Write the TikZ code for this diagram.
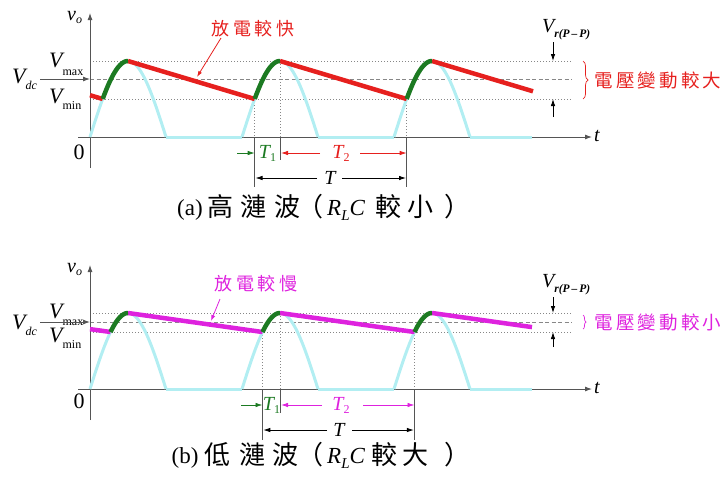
\documentclass[tikz,border=0pt]{standalone}
\usepackage{fontspec}
\setmainfont{Liberation Serif}
\newfontfamily\cjk{Noto Sans CJK TC}
\usetikzlibrary{arrows.meta,decorations.pathreplacing}
\definecolor{myred}{RGB}{230,32,30}
\definecolor{mygreen}{RGB}{28,122,34}
\definecolor{mycyan}{RGB}{178,238,242}
\definecolor{mymag}{RGB}{222,34,222}
\definecolor{axisgray}{RGB}{85,85,85}
\definecolor{dotgray}{RGB}{135,135,135}
\newcommand\Vlab[2]{{\fontsize{22}{22}\selectfont\itshape V}\raisebox{-#2}{\fontsize{12}{12}\selectfont #1}}
\newcommand\Tlab[1]{{\itshape T}\raisebox{-3pt}{\fontsize{12}{12}\selectfont #1}}
\newcommand\Vrpp{{\fontsize{20}{20}\selectfont\itshape V}\raisebox{-5pt}{\fontsize{11.5}{11.5}\selectfont\bfseries\itshape r(P\,--\,P)}}
\newcommand\cj[2]{\makebox[#1]{\cjk #2}}
\tikzset{
  axisl/.style={draw=axisgray, line width=0.9pt},
  tipa/.style={-{Latex[length=7pt,width=5pt]}},
  dotl/.style={dotgray, line width=0.9pt, dash pattern=on 1pt off 2pt},
  dashl/.style={dotgray, line width=0.9pt, dash pattern=on 4pt off 2.5pt},
  wave/.style={mycyan, line width=3pt, line join=round},
  disa/.style={myred, line width=4.5pt},
  disb/.style={mymag, line width=4.5pt},
  chg/.style={mygreen, line width=4.5pt, line join=round},
  vline/.style={axisgray, line width=0.8pt},
  dimarr/.style={line width=0.8pt, -{Latex[length=7pt,width=4.5pt]}},
  lbl/.style={inner sep=0pt, font=\fontsize{20}{20}\selectfont},
  capl/.style={inner sep=0pt, font=\fontsize{23}{23}\selectfont},
  capc/.style={inner sep=0pt, font=\fontsize{26}{26}\selectfont\cjk},
}
\begin{document}
\begin{tikzpicture}[x=1pt,y=-1pt]
\useasboundingbox (0,0) rectangle (727,477);
% ================= panel (a) =================
\draw[dotl] (90,61) -- (572,61);
\draw[dotl] (90,99) -- (572,99);
\draw[dashl] (90,79) -- (572,79);
\draw[dotl] (254.7,99) -- (254.7,137);
\draw[dotl] (280,61) -- (280,137);
\draw[dotl] (406.7,99) -- (406.7,137);
\draw[vline] (254.7,137) -- (254.7,187);
\draw[vline] (280,137) -- (280,160);
\draw[vline] (406.7,137) -- (406.7,187);
\draw[axisl, tipa] (78,137) -- (592,137);
\draw[axisl, tipa] (90,168) -- (90,13);
\foreach \s/\e in {90/166,242/318,394/470}
  \draw[wave] plot[domain=\s:\e, samples=40] (\x,{137-76*sin(180*(\x-\s)/76)});
\draw[wave] (166,137) -- (242,137) (318,137) -- (394,137) (470,137) -- (532,137);
\draw[disa] (90,95.2) -- (102.7,99);
\draw[disa] (128,61) -- (254.7,99);
\draw[disa] (280,61) -- (406.7,99);
\draw[disa] (432,61) -- (533,91.3);
\foreach \s/\a/\e in {90/102.7/128, 242/254.7/280, 394/406.7/432}
  \draw[chg] plot[domain=\a:\e, samples=20] (\x,{137-76*sin(180*(\x-\s)/76)});
% axis labels
\node[lbl, anchor=base west] (a-vo) at (67,20) {\itshape v\raisebox{-3pt}{\fontsize{12}{12}\selectfont o}};
\node[lbl, anchor=center] (a-t) at (597,136) {\itshape t};
\node[inner sep=0pt, font=\fontsize{22}{22}\selectfont] (a-zero) at (79,152) {0};
\node[inner sep=0pt, anchor=base west] (a-vmax) at (49,67) {\Vlab{max}{8pt}};
\node[inner sep=0pt, anchor=base west] (a-vdc) at (12,83) {\Vlab{\itshape dc}{6pt}};
\node[inner sep=0pt, anchor=base west] (a-vmin) at (49,103) {\Vlab{min}{6pt}};
\coordinate (a-dcs) at (40,79);
\coordinate (a-dce) at (90,79);
\draw[axisl, tipa] (a-dcs) -- (a-dce);
% T dimensions
\draw[dimarr, mygreen] (237,153) -- (254.7,153);
\node[lbl, text=mygreen] (a-t1) at (267.5,153) {\Tlab{1}};
\draw[dimarr, myred] (320,153) -- (281,153);
\node[lbl, text=myred] (a-t2) at (341,153) {\Tlab{2}};
\draw[dimarr, myred] (360,153) -- (406.7,153);
\draw[dimarr] (317,178) -- (255.5,178);
\node[lbl] (a-T) at (330,178) {\itshape T};
\draw[dimarr] (342,178) -- (406,178);
% discharge label
\node[inner sep=0pt, text=myred, font=\fontsize{18}{18}\selectfont] (a-fast) at (253,29)
  {\cj{22pt}{放}\cj{22pt}{電}\cj{22pt}{較}\cj{22pt}{快}};
\coordinate (a-fastp) at (197,77);
\draw[myred, line width=0.8pt, -{Latex[length=6pt,width=4pt]}] (221,38) -- (a-fastp);
% ripple
\node[inner sep=0pt, anchor=base west] (a-vr) at (542,32) {\Vrpp};
\draw[dimarr] (553,42) -- (553,61);
\draw[dimarr] (553,117) -- (553,99);
\draw[myred, line width=0.7pt, decorate, decoration={brace, amplitude=5pt}] (583,61) -- (583,99);
\node[inner sep=0pt, text=myred, font=\fontsize{18.5}{18.5}\selectfont] (a-big) at (658,80)
  {\cj{21.7pt}{電}\cj{21.7pt}{壓}\cj{21.7pt}{變}\cj{21.7pt}{動}\cj{21.7pt}{較}\cj{21.7pt}{大}};
% caption
\node[capl, anchor=base] (ca-1) at (190,215) {(a)};
\node[capc] (ca-2) at (220,207) {高};
\node[capc] (ca-3) at (253,207) {漣};
\node[capc] (ca-4) at (287,207) {波};
\node[capc] (ca-5) at (310,207) {（};
\node[capl, anchor=base west] (ca-6) at (327,215) {\itshape R\raisebox{-5pt}{\fontsize{15}{15}\selectfont L}C};
\node[capc] (ca-7) at (388,207) {較};
\node[capc] (ca-8) at (420,207) {小};
\node[capc] (ca-9) at (457,207) {）};
% ================= panel (b) =================
\draw[dotl] (90,313) -- (572,313);
\draw[dotl] (90,332) -- (572,332);
\draw[dashl] (90,322) -- (572,322);
\draw[dotl] (262.5,332) -- (262.5,389);
\draw[dotl] (280,313) -- (280,389);
\draw[dotl] (414.5,332) -- (414.5,389);
\draw[vline] (262.5,389) -- (262.5,440);
\draw[vline] (280,389) -- (280,413);
\draw[vline] (414.5,389) -- (414.5,440);
\draw[axisl, tipa] (78,389) -- (592,389);
\draw[axisl, tipa] (90,420) -- (90,265);
\foreach \s/\e in {90/166,242/318,394/470}
  \draw[wave] plot[domain=\s:\e, samples=40] (\x,{389-76*sin(180*(\x-\s)/76)});
\draw[wave] (166,389) -- (242,389) (318,389) -- (394,389) (470,389) -- (532,389);
\draw[disb] (90,329.1) -- (110.5,332);
\draw[disb] (128,313) -- (262.5,332);
\draw[disb] (280,313) -- (414.5,332);
\draw[disb] (432,313) -- (532,327.1);
\foreach \s/\a/\e in {90/110.5/128, 242/262.5/280, 394/414.5/432}
  \draw[chg] plot[domain=\a:\e, samples=20] (\x,{389-76*sin(180*(\x-\s)/76)});
\node[lbl, anchor=base west] (b-vo) at (67,272) {\itshape v\raisebox{-3pt}{\fontsize{12}{12}\selectfont o}};
\node[lbl, anchor=center] (b-t) at (597,388) {\itshape t};
\node[inner sep=0pt, font=\fontsize{22}{22}\selectfont] (b-zero) at (79,401) {0};
\node[inner sep=0pt, anchor=base west] (b-vmax) at (49,318) {\Vlab{max}{7pt}};
\node[inner sep=0pt, anchor=base west] (b-vdc) at (12,329) {\Vlab{\itshape dc}{6pt}};
\node[inner sep=0pt, anchor=base west] (b-vmin) at (49,342) {\Vlab{min}{6pt}};
\coordinate (b-dcs) at (40,322);
\coordinate (b-dce) at (90,322);
\draw[axisl, tipa] (b-dcs) -- (b-dce);
\draw[dimarr, mygreen] (241,405) -- (262.5,405);
\node[lbl, text=mygreen] (b-t1) at (271.5,405) {\Tlab{1}};
\draw[dimarr, mymag] (322,405) -- (281,405);
\node[lbl, text=mymag] (b-t2) at (341,405) {\Tlab{2}};
\draw[dimarr, mymag] (363,405) -- (414.5,405);
\draw[dimarr] (327,430) -- (263.3,430);
\node[lbl] (b-T) at (339,430) {\itshape T};
\draw[dimarr] (352,430) -- (413.8,430);
\node[inner sep=0pt, text=mymag, font=\fontsize{18}{18}\selectfont] (b-slow) at (256,284)
  {\cj{22pt}{放}\cj{22pt}{電}\cj{22pt}{較}\cj{22pt}{慢}};
\coordinate (b-slowp) at (211,321);
\draw[mymag, line width=0.8pt, -{Latex[length=6pt,width=4pt]}] (220,299) -- (b-slowp);
\node[inner sep=0pt, anchor=base west] (b-vr) at (542,287) {\Vrpp};
\draw[dimarr] (553,297) -- (553,313);
\draw[dimarr] (553,347) -- (553,332);
\draw[mymag, line width=0.7pt, decorate, decoration={brace, amplitude=3pt}] (583,315) -- (583,329);
\node[inner sep=0pt, text=mymag, font=\fontsize{18.5}{18.5}\selectfont] (b-small) at (658,322)
  {\cj{21.7pt}{電}\cj{21.7pt}{壓}\cj{21.7pt}{變}\cj{21.7pt}{動}\cj{21.7pt}{較}\cj{21.7pt}{小}};
\node[capl, anchor=base] (cb-1) at (185,463) {(b)};
\node[capc] (cb-2) at (217,455) {低};
\node[capc] (cb-3) at (252,455) {漣};
\node[capc] (cb-4) at (285,455) {波};
\node[capc] (cb-5) at (310,455) {（};
\node[capl, anchor=base west] (cb-6) at (327,463) {\itshape R\raisebox{-5pt}{\fontsize{15}{15}\selectfont L}C};
\node[capc] (cb-7) at (384,455) {較};
\node[capc] (cb-8) at (415,455) {大};
\node[capc] (cb-9) at (457,455) {）};
\end{tikzpicture}
\end{document}
